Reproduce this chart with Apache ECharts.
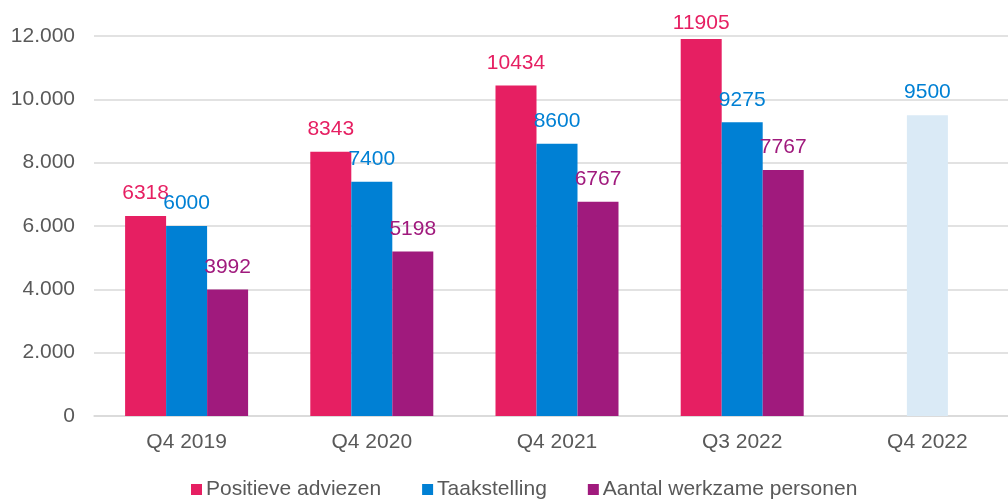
<!DOCTYPE html>
<html><head><meta charset="utf-8">
<script src="https://cdn.jsdelivr.net/npm/echarts@6/dist/echarts.min.js"></script>
<style>html,body{margin:0;padding:0;background:#fff;overflow:hidden;width:1008px;height:500px}#c{width:1020px;height:500px}</style>
</head><body><div id="c"></div>
<script>
const categories = ['Q4 2019', 'Q4 2020', 'Q4 2021', 'Q3 2022', 'Q4 2022'];
const positieveAdviezen = [6318, 8343, 10434, 11905, null];
const taakstelling = [6000, 7400, 8600, 9275, 9500];
const werkzamePersonen = [3992, 5198, 6767, 7767, null];
const yTicks = [0, 2000, 4000, 6000, 8000, 10000, 12000];

const PINK = '#E61F62', BLUE = '#0080D4', PURPLE = '#A01A7D', LIGHT = '#DAEAF6';
const FONT = 'Liberation Sans, Arial, sans-serif';
const chart = echarts.init(document.getElementById('c'), null, {renderer: 'canvas'});
function lbl(color) {
  return {show: true, position: 'top', distance: 12, color: color, fontSize: 21, fontFamily: FONT};
}
chart.setOption({
  animation: false,
  textStyle: {fontFamily: FONT},
  grid: {left: 94, top: 36, right: 0, bottom: 84, containLabel: false},
  legend: {
    bottom: -5, left: 186, itemWidth: 11, itemHeight: 11, itemGap: 41,
    icon: 'rect',
    textStyle: {color: '#595959', fontSize: 21, fontFamily: FONT, padding: [0, 0, 0, -1]},
    data: ['Positieve adviezen', 'Taakstelling', 'Aantal werkzame personen']
  },
  xAxis: {
    type: 'category', data: categories,
    axisLine: {lineStyle: {color: '#D9D9D9', width: 1.5}},
    axisTick: {show: false},
    axisLabel: {color: '#595959', fontSize: 21, margin: 16, fontFamily: FONT}
  },
  yAxis: {
    type: 'value', min: yTicks[0], max: yTicks[yTicks.length - 1], interval: 2000,
    axisLine: {show: false}, axisTick: {show: false},
    splitLine: {lineStyle: {color: '#D9D9D9', width: 1.5}},
    axisLabel: {color: '#595959', fontSize: 21, margin: 19, fontFamily: FONT,
      formatter: v => v.toString().replace(/\B(?=(\d{3})+(?!\d))/g, '.')}
  },
  series: [
    {name: 'Positieve adviezen', type: 'bar', barWidth: 41, barGap: '0%',
     itemStyle: {color: PINK}, label: lbl(PINK),
     data: positieveAdviezen.map((v, i) => i === 3 ? {value: v, label: {distance: 5}} : v)},
    {name: 'Taakstelling', type: 'bar', barWidth: 41, barGap: '0%',
     itemStyle: {color: BLUE}, label: lbl(BLUE),
     data: taakstelling.map((v, i) => i === 4 ? {value: v, itemStyle: {color: LIGHT}} : v)},
    {name: 'Aantal werkzame personen', type: 'bar', barWidth: 41, barGap: '0%',
     itemStyle: {color: PURPLE}, label: lbl(PURPLE), data: werkzamePersonen}
  ]
});
</script></body></html>
